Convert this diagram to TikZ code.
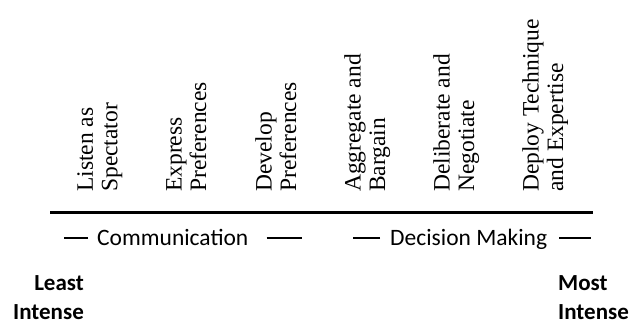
\documentclass[tikz,border=0pt]{standalone}
\usepackage{fontspec}
\setmainfont{Liberation Serif}
\newfontfamily\carlito{Carlito}

\begin{document}
\begin{tikzpicture}[x=1pt, y=-1pt,
    activity/.style={rotate=90, anchor=north west, inner sep=0, align=left,
      font=\fontsize{23.5}{24.5}\selectfont},
    phase/.style={anchor=base west, inner sep=0,
      font=\carlito\fontsize{23.5}{28}\selectfont},
    rule/.style={line width=1.3pt},
    intensity/.style={inner sep=0, font=\carlito\bfseries\fontsize{23}{28.5}\selectfont}]
    \useasboundingbox (0, 0) rectangle (631, 321);

    % activities, from least to most intense
    \node [activity] (listen) at (77, 192) {Listen as\\Spectator};
    \node [activity] (express) at (166, 192) {Express\\Preferences};
    \node [activity] (develop) at (255, 192) {Develop\\Preferences};
    \node [activity] (aggregate) at (344, 192) {Aggregate and\\Bargain};
    \node [activity] (deliberate) at (433, 192) {Deliberate and\\Negotiate};
    \node [activity] (deploy) at (522, 192) {Deploy Technique\\and Expertise};

    \coordinate (low) at (50, 212.5);
    \coordinate (high) at (593, 212.5);
    \draw [line width=3.6pt] (low) -- (high);

    % the two phases
    \node [phase] (communication) at (97, 245) {Communication};
    \node [phase] (decision) at (390, 245) {Decision Making};
    \draw [rule] ([xshift=-9pt, yshift=7pt]communication.base west) -- ++(-24, 0);
    \draw [rule] ([xshift=18pt, yshift=7pt]communication.base east) -- ++(35, 0);
    \draw [rule] ([xshift=-10pt, yshift=7pt]decision.base west) -- ++(-27, 0);
    \draw [rule] ([xshift=12pt, yshift=7pt]decision.base east) -- ++(32, 0);

    \node [intensity, anchor=north east, align=right] (least) at (84, 275.5)
      {Least\\Intense};
    \node [intensity, anchor=north west, align=left] (most) at (558, 275.5)
      {Most\\Intense};
\end{tikzpicture}
\end{document}
